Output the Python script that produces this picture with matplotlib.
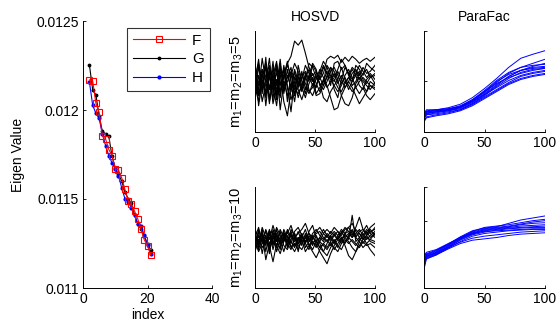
import numpy as np
import matplotlib
matplotlib.use("Agg")
import matplotlib.pyplot as plt
from matplotlib.ticker import FuncFormatter

plt.rcParams['font.family'] = ['Liberation Sans', 'DejaVu Sans']
plt.rcParams['mathtext.default'] = 'regular'
FS = 10

# ---------------- data ----------------
idx = list(range(2, 22))
F_vals = [0.012169, 0.012163, 0.012038, 0.011986, 0.011856, 0.011837, 0.011778, 0.011744,
          0.011670, 0.011662, 0.011619, 0.011554, 0.011491, 0.011470, 0.011431, 0.011387,
          0.011331, 0.011271, 0.011238, 0.011185]
G_vals = [0.012252, 0.012113, 0.012085, 0.011967, 0.011880, 0.011867, 0.011852, 0.011740,
          0.011675, 0.011638, 0.011601, 0.011539, 0.011502, 0.011476, 0.011409, 0.011359,
          0.011331, 0.011290, 0.011247, 0.011215]
H_vals = [0.012157, 0.012027, 0.011982, 0.011954, 0.011865, 0.011800, 0.011744, 0.011703,
          0.011670, 0.011632, 0.011563, 0.011502, 0.011483, 0.011452, 0.011409, 0.011361,
          0.011349, 0.011297, 0.011241, 0.011191]

hosvd_x = [0, 3, 6, 9, 12, 15, 18, 21, 24, 27, 30, 33, 36, 39, 42, 45, 48, 51, 54, 57,
           60, 63, 66, 69, 72, 75, 78, 81, 84, 87, 90, 93, 96, 100]
hosvd_top = [
    [5.0, 7.2, 3.8, 6.5, 4.2, 7.0, 3.5, 6.0, 5.2, 6.8, 7.5, 9.0, 8.6, 9.1, 7.8, 6.4, 5.6, 6.0, 5.2, 5.8, 7.2, 7.5, 7.3, 7.6, 6.9, 7.4, 7.0, 7.5, 7.2, 6.8, 7.1, 7.3, 7.0, 7.4],
    [4.5, 3.0, 6.2, 2.6, 5.8, 3.2, 6.5, 2.2, 5.0, 3.6, 4.8, 3.0, 5.5, 4.2, 5.2, 6.8, 6.4, 5.4, 4.8, 3.4, 3.0, 4.0, 4.6, 5.2, 3.6, 2.8, 2.6, 3.4, 4.8, 5.4, 5.0, 4.6, 4.2, 4.9],
    [6.0, 4.1, 7.3, 5.0, 3.4, 6.4, 4.6, 7.2, 3.8, 5.6, 4.4, 6.2, 5.0, 4.0, 5.8, 5.0, 6.6, 6.0, 5.2, 6.4, 5.8, 4.6, 6.8, 7.0, 6.2, 6.6, 5.6, 6.4, 6.0, 5.2, 5.8, 6.2, 5.4, 5.6],
    [5.5, 6.8, 4.4, 5.0, 7.3, 3.9, 5.2, 4.0, 6.6, 4.4, 2.0, 5.4, 4.8, 6.0, 4.2, 5.6, 4.6, 5.2, 6.2, 5.4, 4.4, 5.0, 5.8, 4.8, 5.6, 4.8, 5.4, 6.2, 5.6, 4.6, 4.2, 5.2, 5.6, 4.8],
    [4.0, 5.6, 3.0, 4.8, 6.0, 2.8, 4.4, 5.8, 3.0, 1.6, 4.2, 5.0, 3.4, 4.8, 5.6, 4.2, 3.6, 4.6, 5.6, 6.6, 5.8, 5.2, 4.6, 4.0, 4.6, 5.6, 6.2, 5.4, 4.4, 3.8, 4.4, 3.6, 3.2, 3.8],
    [6.4, 3.6, 5.4, 6.9, 4.2, 5.8, 3.6, 6.4, 4.8, 5.4, 6.4, 4.2, 3.8, 4.6, 5.4, 6.2, 5.2, 4.4, 6.0, 7.0, 6.4, 5.4, 5.0, 6.0, 5.2, 4.4, 5.0, 5.8, 6.2, 5.6, 6.4, 5.8, 6.0, 6.6],
    [3.6, 5.0, 6.2, 3.6, 5.4, 4.6, 2.6, 5.4, 6.2, 4.6, 3.2, 4.6, 5.8, 4.4, 3.4, 4.8, 5.4, 3.8, 4.4, 5.2, 4.6, 3.4, 2.2, 2.4, 3.6, 4.4, 5.0, 4.4, 3.6, 2.8, 3.4, 4.0, 4.6, 4.2],
    [5.8, 4.6, 5.6, 6.4, 3.0, 4.8, 6.8, 4.6, 5.6, 6.6, 5.6, 6.8, 6.0, 5.2, 6.6, 5.8, 5.0, 5.8, 5.4, 4.6, 5.6, 6.4, 5.4, 6.2, 7.2, 6.6, 5.8, 5.2, 5.8, 6.6, 6.0, 5.4, 5.8, 5.2],
    [4.8, 6.4, 5.2, 3.4, 6.2, 5.0, 4.0, 3.6, 5.6, 7.0, 5.0, 3.8, 4.4, 5.8, 4.8, 4.0, 4.4, 5.6, 4.8, 4.2, 5.0, 6.0, 6.4, 5.6, 4.8, 5.4, 4.6, 4.0, 4.4, 5.0, 5.4, 5.0, 4.6, 4.4],
    [5.2, 3.8, 4.8, 5.6, 6.6, 4.4, 5.8, 5.0, 4.2, 5.0, 6.0, 5.4, 4.6, 5.4, 6.0, 5.2, 5.8, 4.8, 4.0, 5.0, 6.0, 5.6, 5.2, 4.4, 4.0, 4.8, 5.4, 5.0, 5.6, 6.0, 5.2, 4.8, 5.4, 5.8],
    [3.2, 6.6, 4.0, 7.4, 2.8, 5.6, 7.0, 3.4, 6.4, 3.0, 5.8, 3.6, 6.6, 5.0, 3.8, 5.6, 6.8, 6.2, 4.6, 5.0, 6.6, 6.0, 4.2, 3.4, 5.2, 6.4, 5.8, 4.6, 5.0, 5.8, 4.6, 4.0, 5.0, 4.6],
    [6.8, 2.6, 5.0, 4.0, 6.4, 5.2, 3.2, 6.8, 4.2, 6.2, 4.0, 6.0, 4.2, 3.2, 4.4, 3.8, 4.8, 3.6, 3.8, 4.6, 5.4, 6.4, 6.0, 5.2, 6.4, 5.2, 4.2, 5.0, 6.6, 6.2, 5.6, 6.8, 6.4, 6.0],
]
hosvd_bot = [
    [5.6, 4.0, 5.8, 3.6, 5.4, 4.2, 5.8, 4.4, 5.2, 4.0, 5.6, 4.6, 5.0, 4.2, 5.4, 4.8, 4.2, 5.2, 4.4, 3.6, 3.2, 4.0, 4.6, 5.0, 4.6, 5.4, 5.6, 5.2, 6.0, 7.0, 5.8, 5.4, 5.8, 5.2],
    [4.2, 5.6, 3.4, 5.2, 4.0, 5.6, 3.6, 4.8, 5.6, 4.4, 3.8, 5.0, 4.6, 5.4, 4.0, 4.6, 5.2, 4.4, 3.6, 3.0, 2.4, 3.4, 4.2, 4.8, 4.4, 5.0, 4.6, 4.0, 3.6, 4.2, 4.8, 5.2, 4.6, 4.4],
    [5.0, 6.0, 4.4, 5.8, 4.8, 6.2, 5.0, 4.4, 5.8, 5.0, 4.4, 5.6, 6.0, 5.2, 4.6, 5.6, 6.2, 5.0, 4.6, 5.4, 5.0, 5.6, 5.2, 4.8, 5.4, 6.0, 5.6, 5.0, 5.8, 5.4, 4.8, 5.2, 6.0, 6.4],
    [3.6, 4.8, 5.4, 2.8, 4.4, 5.2, 4.2, 3.4, 4.6, 5.2, 4.0, 4.4, 3.8, 4.8, 5.2, 4.2, 3.6, 3.0, 3.8, 4.4, 4.0, 4.6, 3.8, 4.4, 5.0, 4.2, 3.2, 2.8, 3.6, 4.6, 4.0, 4.4, 3.8, 3.2],
    [4.8, 3.8, 5.0, 4.6, 5.6, 3.8, 5.2, 4.8, 3.6, 4.8, 5.4, 4.2, 4.8, 5.4, 4.4, 5.2, 4.6, 4.0, 5.0, 5.8, 5.2, 4.6, 5.2, 5.6, 5.0, 4.4, 5.2, 5.8, 5.0, 4.6, 5.4, 4.8, 5.2, 5.6],
    [5.4, 4.4, 6.0, 5.0, 3.8, 4.8, 6.0, 5.2, 4.6, 5.8, 5.0, 5.4, 4.4, 5.0, 5.8, 4.6, 5.4, 5.8, 5.2, 4.8, 5.4, 5.0, 4.4, 5.2, 5.8, 5.4, 6.0, 6.4, 5.6, 5.0, 5.6, 6.2, 5.4, 5.0],
    [4.4, 5.2, 4.0, 4.6, 5.8, 4.6, 4.0, 5.6, 4.2, 3.8, 4.8, 5.4, 4.2, 3.8, 4.6, 5.0, 4.4, 4.8, 4.0, 4.4, 4.8, 4.2, 4.8, 4.2, 3.8, 4.6, 5.0, 4.6, 4.2, 4.8, 5.0, 4.4, 4.8, 4.6],
    [5.2, 4.6, 4.8, 5.6, 4.4, 5.0, 4.6, 5.0, 5.4, 4.6, 5.2, 4.8, 5.6, 4.6, 5.0, 5.4, 4.8, 5.4, 5.6, 5.0, 4.6, 5.2, 5.6, 5.2, 4.8, 5.2, 5.0, 5.6, 5.2, 5.4, 5.0, 5.6, 5.0, 5.4],
    [4.6, 3.6, 4.4, 5.0, 4.2, 2.6, 4.4, 4.0, 5.0, 4.6, 4.2, 3.6, 4.4, 4.8, 3.6, 4.2, 4.6, 4.2, 4.6, 4.2, 3.8, 4.4, 4.0, 3.6, 4.4, 4.8, 4.4, 4.8, 4.4, 4.0, 4.6, 4.2, 4.4, 4.0],
    [5.8, 5.0, 5.2, 4.2, 5.6, 5.4, 4.6, 5.8, 5.0, 5.4, 6.2, 5.0, 5.4, 5.8, 6.4, 5.4, 5.0, 5.6, 6.0, 5.4, 5.8, 5.4, 6.0, 5.6, 5.2, 5.8, 6.0, 5.4, 5.0, 5.6, 5.8, 5.2, 5.6, 5.8],
    [4.0, 5.8, 4.6, 5.2, 3.4, 5.8, 4.8, 3.8, 5.4, 4.2, 5.8, 5.2, 3.6, 5.2, 4.4, 3.8, 5.0, 4.6, 4.0, 3.6, 4.4, 5.2, 4.6, 4.0, 4.8, 5.4, 4.8, 7.2, 4.6, 5.0, 4.4, 5.0, 4.8, 5.4],
    [5.0, 4.2, 5.4, 4.4, 5.0, 4.4, 5.4, 4.2, 4.8, 5.6, 4.6, 4.0, 5.0, 4.4, 5.0, 4.4, 3.8, 4.6, 5.0, 4.6, 5.2, 4.8, 5.4, 4.8, 5.6, 5.0, 5.4, 5.0, 5.4, 5.8, 5.2, 5.8, 5.4, 6.0],
]

para_x = [0, 2, 10, 20, 30, 40, 50, 60, 70, 80, 90, 100]
para_top = [
    [0.30, 0.40, 0.44, 0.48, 0.55, 0.68, 0.86, 1.06, 1.28, 1.46, 1.54, 1.61],
    [0.28, 0.36, 0.40, 0.44, 0.50, 0.62, 0.78, 0.98, 1.16, 1.28, 1.36, 1.44],
    [0.34, 0.42, 0.44, 0.46, 0.52, 0.64, 0.82, 1.02, 1.18, 1.28, 1.32, 1.34],
    [0.25, 0.34, 0.38, 0.42, 0.48, 0.60, 0.76, 0.94, 1.10, 1.22, 1.30, 1.36],
    [0.32, 0.40, 0.42, 0.44, 0.48, 0.58, 0.74, 0.92, 1.10, 1.22, 1.28, 1.30],
    [0.22, 0.30, 0.34, 0.38, 0.44, 0.56, 0.72, 0.90, 1.06, 1.18, 1.24, 1.26],
    [0.36, 0.44, 0.44, 0.46, 0.50, 0.60, 0.74, 0.88, 1.02, 1.12, 1.18, 1.22],
    [0.30, 0.38, 0.40, 0.42, 0.46, 0.56, 0.70, 0.84, 0.98, 1.10, 1.16, 1.20],
    [0.27, 0.34, 0.36, 0.40, 0.44, 0.54, 0.68, 0.82, 0.96, 1.06, 1.12, 1.16],
    [0.20, 0.28, 0.32, 0.36, 0.42, 0.52, 0.66, 0.80, 0.94, 1.04, 1.10, 1.14],
    [0.33, 0.40, 0.42, 0.44, 0.50, 0.62, 0.80, 1.00, 1.14, 1.22, 1.26, 1.28],
    [0.29, 0.37, 0.40, 0.44, 0.50, 0.64, 0.80, 0.96, 1.08, 1.16, 1.22, 1.26],
]
para_bot = [
    [0.60, 1.00, 1.10, 1.30, 1.52, 1.70, 1.78, 1.82, 1.92, 2.02, 2.08, 2.14],
    [0.80, 0.98, 1.08, 1.28, 1.50, 1.68, 1.80, 1.84, 1.88, 1.94, 2.00, 2.04],
    [0.70, 0.92, 1.02, 1.24, 1.46, 1.62, 1.74, 1.78, 1.82, 1.88, 1.92, 1.94],
    [0.90, 1.02, 1.12, 1.30, 1.48, 1.64, 1.72, 1.76, 1.80, 1.84, 1.86, 1.88],
    [0.56, 0.86, 0.98, 1.20, 1.44, 1.60, 1.70, 1.74, 1.78, 1.80, 1.82, 1.84],
    [0.75, 0.94, 1.04, 1.22, 1.42, 1.58, 1.66, 1.72, 1.76, 1.78, 1.80, 1.80],
    [0.95, 1.06, 1.14, 1.32, 1.50, 1.62, 1.68, 1.70, 1.72, 1.74, 1.76, 1.76],
    [0.65, 0.90, 1.00, 1.18, 1.38, 1.54, 1.62, 1.66, 1.70, 1.72, 1.74, 1.74],
    [0.85, 0.96, 1.04, 1.20, 1.36, 1.48, 1.54, 1.58, 1.62, 1.66, 1.68, 1.70],
    [0.72, 0.88, 0.98, 1.16, 1.32, 1.42, 1.46, 1.50, 1.56, 1.60, 1.62, 1.64],
    [0.62, 0.95, 1.06, 1.26, 1.48, 1.66, 1.76, 1.80, 1.84, 1.90, 1.96, 2.00],
]

main_yticks = [0.011, 0.0115, 0.012, 0.0125]
main_xticks = [0, 20, 40]
small_xticks = [0, 50, 100]

# ---------------- figure ----------------
fig = plt.figure(figsize=(5.6, 3.29), dpi=100)
W, H = 560, 329


def ax_at(x0, y0, x1, y1):
    return fig.add_axes([x0 / W, 1 - y1 / H, (x1 - x0) / W, (y1 - y0) / H])


def style(ax):
    for s in ('top', 'right'):
        ax.spines[s].set_visible(False)
    for s in ('left', 'bottom'):
        ax.spines[s].set_linewidth(0.7)
    ax.tick_params(direction='in', length=2.5, width=0.6, labelsize=FS, pad=3)


# main eigenvalue plot
ax = ax_at(83, 21, 212, 288)
ax.plot(idx, F_vals, color='red', lw=0.8, marker='s', ms=4, mfc='none', mec='red', mew=0.8,
        label='F', zorder=4)
ax.plot(idx, G_vals, color='black', lw=0.8, marker='.', ms=3.5, label='G', zorder=3)
ax.plot(idx, H_vals, color='blue', lw=0.8, marker='.', ms=4, label='H', zorder=3)
ax.set_xlim(0, 40)
ax.set_ylim(0.011, 0.0125)
ax.set_xticks(main_xticks)
ax.set_yticks(main_yticks)
ax.yaxis.set_major_formatter(FuncFormatter(lambda v, p: ('%g' % v)))
style(ax)
ax.set_xlabel('index', fontsize=FS, labelpad=1)
ax.set_ylabel('Eigen Value', fontsize=FS, labelpad=8)
leg = ax.legend(loc='upper right', bbox_to_anchor=(0.985, 0.975), fontsize=FS + 1, frameon=True,
                fancybox=False, edgecolor='black', handlelength=3.4, borderpad=0.4,
                labelspacing=0.3, handletextpad=0.5, borderaxespad=0)
leg.get_frame().set_linewidth(0.8)
leg.set_zorder(10)

# HOSVD top
a1 = ax_at(255, 31, 375, 132)
for ln in hosvd_top:
    a1.plot(hosvd_x, ln, color='black', lw=0.8)
a1.set_xlim(0, 100)
a1.set_ylim(0, 10)
a1.set_xticks(small_xticks)
a1.set_yticks([])
style(a1)
a1.set_title('HOSVD', fontsize=FS, pad=7)
a1.set_ylabel('$\\mathregular{m_1\\!=\\!m_2\\!=\\!m_3\\!=\\!5}$', fontsize=FS + 0.5, labelpad=7)

# ParaFac top
a2 = ax_at(424, 31, 545, 132)
for ln in para_top:
    a2.plot(para_x, ln, color='blue', lw=0.7)
a2.set_xlim(0, 100)
a2.set_ylim(0, 2)
a2.set_xticks(small_xticks)
a2.set_yticks([0, 1, 2])
a2.set_yticklabels([])
style(a2)
a2.set_title('ParaFac', fontsize=FS, pad=7)

# HOSVD bottom
a3 = ax_at(255, 187, 375, 288)
for ln in hosvd_bot:
    a3.plot(hosvd_x, ln, color='black', lw=0.8)
a3.set_xlim(0, 100)
a3.set_ylim(0, 10)
a3.set_xticks(small_xticks)
a3.set_yticks([])
style(a3)
a3.set_ylabel('$\\mathregular{m_1\\!=\\!m_2\\!=\\!m_3\\!=\\!10}$', fontsize=FS + 0.5, labelpad=7)

# ParaFac bottom
a4 = ax_at(424, 187, 545, 288)
for ln in para_bot:
    a4.plot(para_x, ln, color='blue', lw=0.7)
a4.set_xlim(0, 100)
a4.set_ylim(0, 3)
a4.set_xticks(small_xticks)
a4.set_yticks([0, 1, 2, 3])
a4.set_yticklabels([])
style(a4)

fig.savefig('out.png', dpi=100)
